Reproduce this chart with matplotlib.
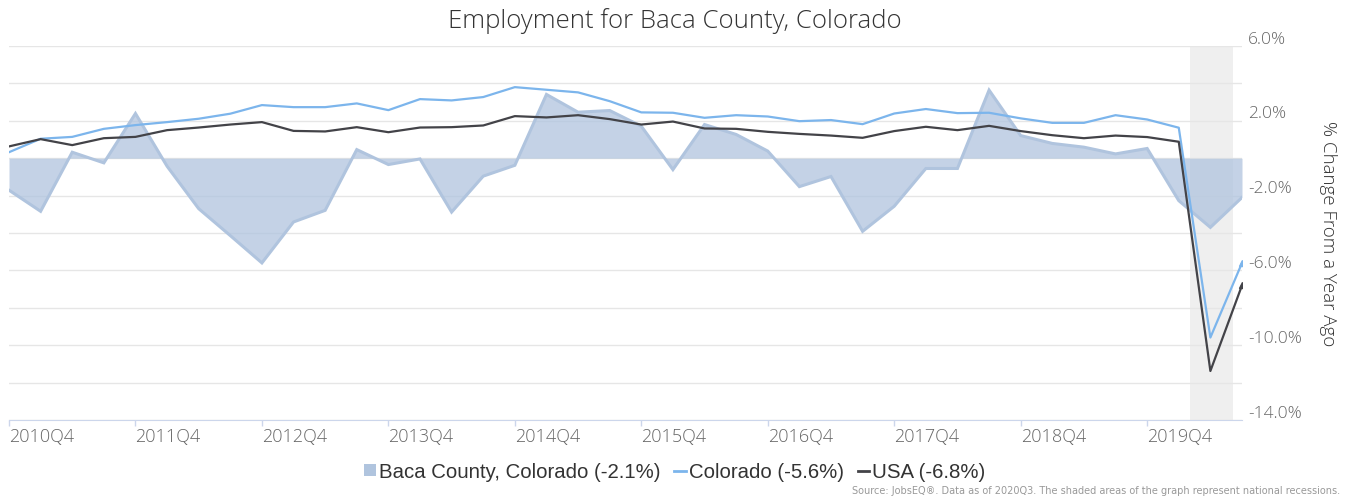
import numpy as np
import matplotlib
matplotlib.use("Agg")
import matplotlib.pyplot as plt
from matplotlib.lines import Line2D
from matplotlib.patches import Patch
from matplotlib.transforms import ScaledTranslation

# quarters 2010Q4 .. 2020Q3
quarters = ["2010Q4"] + [f"{y}Q{q}" for y in range(2011, 2020) for q in range(1, 5)] + ["2020Q1", "2020Q2", "2020Q3"]

baca = [-1.71, -2.84, 0.32, -0.25, 2.39, -0.43, -2.70, -4.14, -5.60, -3.41,
        -2.79, 0.46, -0.34, -0.04, -2.88, -0.96, -0.38, 3.41, 2.46, 2.55,
        1.71, -0.61, 1.80, 1.27, 0.38, -1.52, -0.98, -3.91, -2.57, -0.55,
        -0.55, 3.64, 1.21, 0.79, 0.59, 0.23, 0.52, -2.27, -3.70, -2.10]
colorado = [0.32, 1.04, 1.14, 1.57, 1.77, 1.93, 2.11, 2.38, 2.84, 2.73,
            2.73, 2.93, 2.57, 3.16, 3.09, 3.27, 3.80, 3.66, 3.52, 3.05,
            2.45, 2.43, 2.16, 2.30, 2.23, 1.98, 2.04, 1.82, 2.39, 2.63,
            2.41, 2.43, 2.13, 1.89, 1.89, 2.30, 2.07, 1.63, -9.59, -5.60]
usa = [0.63, 1.02, 0.70, 1.07, 1.14, 1.50, 1.64, 1.80, 1.93, 1.46,
       1.43, 1.66, 1.39, 1.64, 1.66, 1.75, 2.25, 2.18, 2.30, 2.09,
       1.80, 1.96, 1.59, 1.57, 1.41, 1.30, 1.21, 1.09, 1.45, 1.68,
       1.50, 1.73, 1.45, 1.23, 1.07, 1.21, 1.13, 0.88, -11.38, -6.80]

recession = (37.34, 38.70)
tick_labels = [q for q in quarters if q.endswith("Q4")]

x = np.arange(len(quarters))

fig = plt.figure(figsize=(13.49, 4.98), dpi=100)
ax = fig.add_axes([9/1349, 1-420/498, (1242-9)/1349, (420-46)/498])

ax.axvspan(recession[0], recession[1], color="#efefef", zorder=0, lw=0)

ax.fill_between(x, baca, 0, color="#b0c4de", alpha=0.75, lw=0, zorder=2)
ax.plot(x, baca, color="#b0c4de", lw=2.2, zorder=2, solid_joinstyle="miter")
ax.plot(x, colorado, color="#7cb5ec", lw=1.6, zorder=3)
ax.plot(x, usa, color="#434348", lw=1.6, zorder=4)
ax.plot(x[-1], colorado[-1], marker="^", color="#7cb5ec", ms=4, zorder=3)
ax.plot(x[-1], usa[-1], marker="^", color="#434348", ms=4, zorder=4)

ax.set_xlim(0, len(quarters)-1)
ax.set_ylim(-14, 6)

ax.yaxis.tick_right()
ax.set_yticks(np.arange(-14, 7, 4))
ax.set_yticks(np.arange(-12, 5, 4), minor=True)
ax.set_yticklabels([f"{v:.1f}%" for v in np.arange(-14, 7, 4)])
ax.grid(axis="y", which="both", color="#e6e6e6", lw=1, zorder=1)
ax.set_axisbelow(True)
ax.tick_params(axis="y", which="both", length=0, pad=4.5, labelsize=12.5, labelcolor="#666666")
for lab in ax.get_yticklabels():
    lab.set_fontfamily(["Open Sans", "DejaVu Sans"])
    lab.set_fontweight("light")
    lab.set_transform(lab.get_transform() + ScaledTranslation(0, 6/72, fig.dpi_scale_trans))

ax.set_xticks([quarters.index(q) for q in tick_labels])
ax.set_xticklabels(tick_labels, ha="left")
ax.tick_params(axis="x", length=4, width=1, color="#ccd6eb", pad=2, labelsize=13, labelcolor="#666666")
for lab in ax.get_xticklabels():
    lab.set_fontfamily(["Open Sans", "DejaVu Sans"])
    lab.set_fontweight("light")

for s in ["top", "left", "right"]:
    ax.spines[s].set_visible(False)
ax.spines["bottom"].set_color("#ccd6eb")

fig.text(0.5, 1-21/498, "Employment for Baca County, Colorado", ha="center", va="center",
         fontsize=18.5, color="#333333", family=["Open Sans", "DejaVu Sans"], fontweight="light")
fig.text(1328/1349, 1-234/498, "% Change From a Year Ago", rotation=270, ha="center", va="center",
         fontsize=13.5, color="#333333", family=["Open Sans", "DejaVu Sans"], fontweight="light")

handles = [Patch(facecolor="#b0c4de", edgecolor="none"),
           Line2D([0], [0], color="#7cb5ec", lw=2),
           Line2D([0], [0], color="#434348", lw=2)]
labels = ["Baca County, Colorado (-2.1%)", "Colorado (-5.6%)", "USA (-6.8%)"]
fig.legend(handles, labels, loc="center", bbox_to_anchor=(675/1349, 1-472/498), ncol=3,
           frameon=False, handlelength=0.55, handleheight=0.55, handletextpad=0.15, columnspacing=0.7,
           prop={"family": "Liberation Sans", "size": 14.7}, labelcolor="#333333")

fig.text(1340/1349, 1-491/498, "Source: JobsEQ\u00ae. Data as of 2020Q3. The shaded areas of the graph represent national recessions.",
         ha="right", va="center", fontsize=7, color="#999999", family=["Liberation Sans Narrow", "DejaVu Sans"])

fig.savefig("out.png", dpi=100)
